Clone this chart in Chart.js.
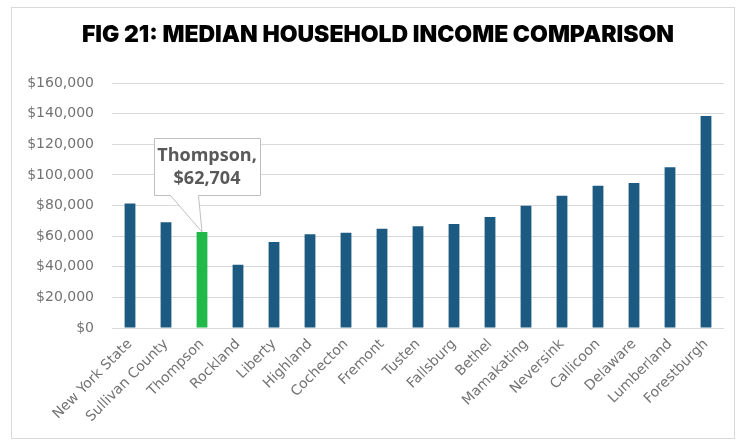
<!DOCTYPE html>
<html>
<head>
<meta charset="utf-8">
<script src="https://cdn.jsdelivr.net/npm/chart.js@4.4.1/dist/chart.umd.min.js"></script>
<style>
  html, body { margin: 0; padding: 0; background: #fff; }
  #wrap { position: relative; width: 746px; height: 444px; overflow: hidden; }
  #frame { position: absolute; left: 11px; top: 7px; width: 724px; height: 432px;
           border: 1px solid #d9d9d9; box-sizing: border-box; }
  #incomeChart { position: absolute; left: 0; top: 0; }
</style>
</head>
<body>
<div id="wrap">
  <div id="frame"></div>
  <canvas id="incomeChart" width="746" height="444"></canvas>
</div>
<script>
var places = ['New York State', 'Sullivan County', 'Thompson', 'Rockland', 'Liberty', 'Highland',
    'Cochecton', 'Fremont', 'Tusten', 'Fallsburg', 'Bethel', 'Mamakating', 'Neversink',
    'Callicoon', 'Delaware', 'Lumberland', 'Forestburgh'];

var medianIncome = [81386, 69000, 62704, 41300, 56200, 61200, 62200, 64800, 66400, 67900,
    72500, 79900, 86400, 92900, 94700, 104900, 138400];

var highlightPlace = 'Thompson';
var yTicks = [0, 20000, 40000, 60000, 80000, 100000, 120000, 140000, 160000];

var blue = '#1d5a82';
var green = '#22b84a';

var barColors = places.map(function(p) {
    return p === highlightPlace ? green : blue;
});

function money(v) {
    return '$' + v.toLocaleString('en-US');
}

// callout box with a wedge pointing at the highlighted bar
var calloutPlugin = {
    id: 'callout',
    afterDatasetsDraw: function(chart) {
        var idx = places.indexOf(highlightPlace);
        var bar = chart.getDatasetMeta(0).data[idx];
        var ctx = chart.ctx;
        var bx = bar.x - 48, by = bar.y - 94, bw = 106, bh = 57;

        ctx.save();
        ctx.fillStyle = '#fff';
        ctx.strokeStyle = '#bfbfbf';
        ctx.lineWidth = 1;
        ctx.beginPath();
        ctx.moveTo(bx + 0.5, by + 0.5);
        ctx.lineTo(bx + bw + 0.5, by + 0.5);
        ctx.lineTo(bx + bw + 0.5, by + bh + 0.5);
        ctx.lineTo(bx + 44.5, by + bh + 0.5);
        ctx.lineTo(bar.x, bar.y);
        ctx.lineTo(bx + 16.5, by + bh + 0.5);
        ctx.lineTo(bx + 0.5, by + bh + 0.5);
        ctx.closePath();
        ctx.fill();
        ctx.stroke();

        ctx.fillStyle = '#595959';
        ctx.font = 'bold 18px "Open Sans"';
        ctx.textAlign = 'center';
        ctx.textBaseline = 'middle';
        ctx.fillText(highlightPlace + ',', bx + bw / 2, by + 18);
        ctx.fillText(money(medianIncome[idx]), bx + bw / 2, by + 41);
        ctx.restore();
    }
};

var incomeChart = new Chart(document.getElementById('incomeChart').getContext('2d'), {
    type: 'bar',
    data: {
        labels: places,
        datasets: [{
            data: medianIncome,
            backgroundColor: barColors,
            barPercentage: 0.3,
            categoryPercentage: 1.0
        }]
    },
    options: {
        responsive: false,
        animation: false,
        layout: {
            padding: { left: 12, right: 22, top: 83, bottom: 0 }
        },
        plugins: {
            legend: { display: false },
            tooltip: { enabled: false },
            title: { display: false }
        },
        scales: {
            x: {
                grid: { display: false, drawTicks: false },
                border: { display: false },
                ticks: {
                    color: '#737373',
                    font: { family: 'DejaVu Sans', size: 14 },
                    minRotation: 45,
                    maxRotation: 45,
                    autoSkip: false,
                    padding: 8
                },
                afterFit: function(scale) { scale.height = 116; }
            },
            y: {
                min: 0,
                max: 160000,
                afterBuildTicks: function(scale) {
                    scale.ticks = yTicks.map(function(v) { return { value: v }; });
                },
                grid: { color: '#d9d9d9', drawTicks: false },
                border: { display: false },
                ticks: {
                    color: '#737373',
                    font: { family: 'DejaVu Sans', size: 14 },
                    padding: 18,
                    callback: function(v) { return money(v); }
                },
                afterFit: function(scale) { scale.width = 100; }
            }
        }
    },
    plugins: [calloutPlugin, {
        id: 'heading',
        afterDraw: function(chart) {
            var ctx = chart.ctx;
            ctx.save();
            ctx.fillStyle = '#000';
            ctx.font = '900 23px Inter';
            ctx.textAlign = 'center';
            ctx.textBaseline = 'middle';
            ctx.fillText('FIG 21: MEDIAN HOUSEHOLD INCOME COMPARISON', 378, 35);
            ctx.restore();
        }
    }]
});
</script>
</body>
</html>
